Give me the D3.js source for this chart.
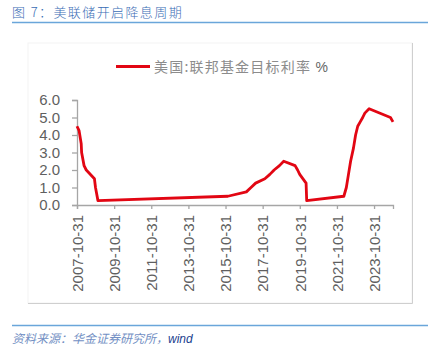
<!DOCTYPE html>
<html>
<head>
<meta charset="utf-8">
<script src="https://cdn.jsdelivr.net/npm/d3@7"></script>
<style>
  body { margin: 0; background: #fff; }
  svg { display: block; }
</style>
</head>
<body>
<div id="chart"></div>
<script>
// fed funds target rate (upper bound), at each policy change date
var dates = ['2007-10-31', '2007-12-11', '2008-01-22', '2008-01-30', '2008-03-18', '2008-04-30',
    '2008-10-08', '2008-10-29', '2008-12-16', '2015-12-16', '2016-12-14', '2017-03-15',
    '2017-06-14', '2017-12-13', '2018-03-21', '2018-06-13', '2018-09-26', '2018-12-19',
    '2019-07-31', '2019-09-18', '2019-10-30', '2020-03-03', '2020-03-15', '2022-03-16',
    '2022-05-04', '2022-06-15', '2022-07-27', '2022-09-21', '2022-11-02', '2022-12-14',
    '2023-02-01', '2023-03-22', '2023-05-03', '2023-07-26', '2024-09-18', '2024-11-07']
var rates = [4.5, 4.25, 3.5, 3.0, 2.25, 2.0,
    1.5, 1.0, 0.25, 0.5, 0.75, 1.0,
    1.25, 1.5, 1.75, 2.0, 2.25, 2.5,
    2.25, 2.0, 1.75, 1.25, 0.25, 0.5,
    1.0, 1.75, 2.5, 3.25, 4.0, 4.5,
    4.75, 5.0, 5.25, 5.5, 5.0, 4.75]
var tickDates = ['2007-10-31', '2009-10-31', '2011-10-31', '2013-10-31', '2015-10-31',
    '2017-10-31', '2019-10-31', '2021-10-31', '2023-10-31']
var yTicks = [0, 1, 2, 3, 4, 5, 6]
var seriesName = '美国:联邦基金目标利率'
var title = '图 7：美联储开启降息周期'
var source = '资料来源：华金证券研究所，'

var parse = d3.timeParse('%Y-%m-%d')
var data = dates.map(function(d, i) { return {date: parse(d), value: rates[i]} })

var W = 447, H = 355
var svg = d3.select('#chart').append('svg')
    .attr('width', W)
    .attr('height', H)

// header
svg.append('text')
    .attr('x', 12)
    .attr('y', 17)
    .style('font-family', '"Noto Sans CJK SC", sans-serif')
    .style('font-size', '13px')
    .style('font-weight', 300)
    .style('letter-spacing', '1.4px')
    .style('fill', '#3a6db5')
    .text(title)
svg.append('line')
    .attr('x1', 12).attr('x2', 428)
    .attr('y1', 22.5).attr('y2', 22.5)
    .style('stroke', '#6aa6da')
    .style('stroke-width', 1.5)

// chart frame (faint top/left, darker right/bottom)
svg.append('rect')
    .attr('x', 28).attr('y', 43)
    .attr('width', 384).attr('height', 260)
    .style('fill', 'none')
    .style('stroke', '#f3f3f3')
svg.append('path')
    .attr('d', 'M412.5,43V303.5H28')
    .style('fill', 'none')
    .style('stroke', '#cfcfcf')

// scales
var x = d3.scaleTime()
    .domain([parse('2007-10-31'), parse('2024-11-07')])
    .range([77, 393])
var y = d3.scaleLinear()
    .domain([0, 6])
    .range([205, 100])

// y axis
var yAxis = svg.append('g')
    .attr('transform', 'translate(77,0)')
    .call(d3.axisLeft(y).tickValues(yTicks).tickSize(5).tickPadding(12).tickFormat(d3.format('.1f')))
// x axis
var xAxis = svg.append('g')
    .attr('transform', 'translate(0,205)')
    .call(d3.axisBottom(x).tickValues(tickDates.map(parse)).tickSize(4).tickFormat(d3.timeFormat('%Y-%m-%d')))
xAxis.selectAll('text')
    .attr('transform', 'rotate(-90)')
    .attr('x', -10)
    .attr('y', 0)
    .attr('dy', '0.35em')
    .style('text-anchor', 'end')

svg.selectAll('.domain, .tick line')
    .style('stroke', '#a6a6a6')
    .style('stroke-width', 1.3)
svg.selectAll('.tick text')
    .style('font-family', '"Liberation Sans", Arial, sans-serif')
    .style('font-size', '15px')
    .style('fill', '#5f5f5f')

// line
var line = d3.line()
    .x(function(d) { return x(d.date) })
    .y(function(d) { return y(d.value) })
svg.append('path')
    .datum(data)
    .attr('d', line)
    .style('fill', 'none')
    .style('stroke', '#e20613')
    .style('stroke-width', 2.8)
    .style('stroke-linejoin', 'round')

// legend
svg.append('line')
    .attr('x1', 116).attr('x2', 150)
    .attr('y1', 66.5).attr('y2', 66.5)
    .style('stroke', '#e20613')
    .style('stroke-width', 2.8)
var lg = svg.append('text')
    .attr('x', 154)
    .attr('y', 71.5)
    .style('font-family', '"Noto Sans CJK SC", sans-serif')
    .style('font-size', '14px')
    .style('letter-spacing', '1.2px')
    .style('fill', '#8c8c8c')
lg.append('tspan').text(seriesName + ' ')
lg.append('tspan')
    .style('fill', '#666')
    .style('font-family', '"Liberation Sans", Arial, sans-serif')
    .text('%')

// footer
svg.append('line')
    .attr('x1', 12).attr('x2', 428)
    .attr('y1', 325.5).attr('y2', 325.5)
    .style('stroke', '#6aa6da')
    .style('stroke-width', 1.5)
var src = svg.append('text')
    .attr('x', 12)
    .attr('y', 343)
    .style('font-family', '"Noto Sans CJK SC", sans-serif')
    .style('font-size', '12px')
    .style('font-style', 'italic')
    .style('fill', '#7390c4')
src.append('tspan').text(source)
src.append('tspan')
    .style('font-family', '"Liberation Sans", Arial, sans-serif')
    .style('fill', '#1d3f8f')
    .text('wind')
</script>
</body>
</html>
